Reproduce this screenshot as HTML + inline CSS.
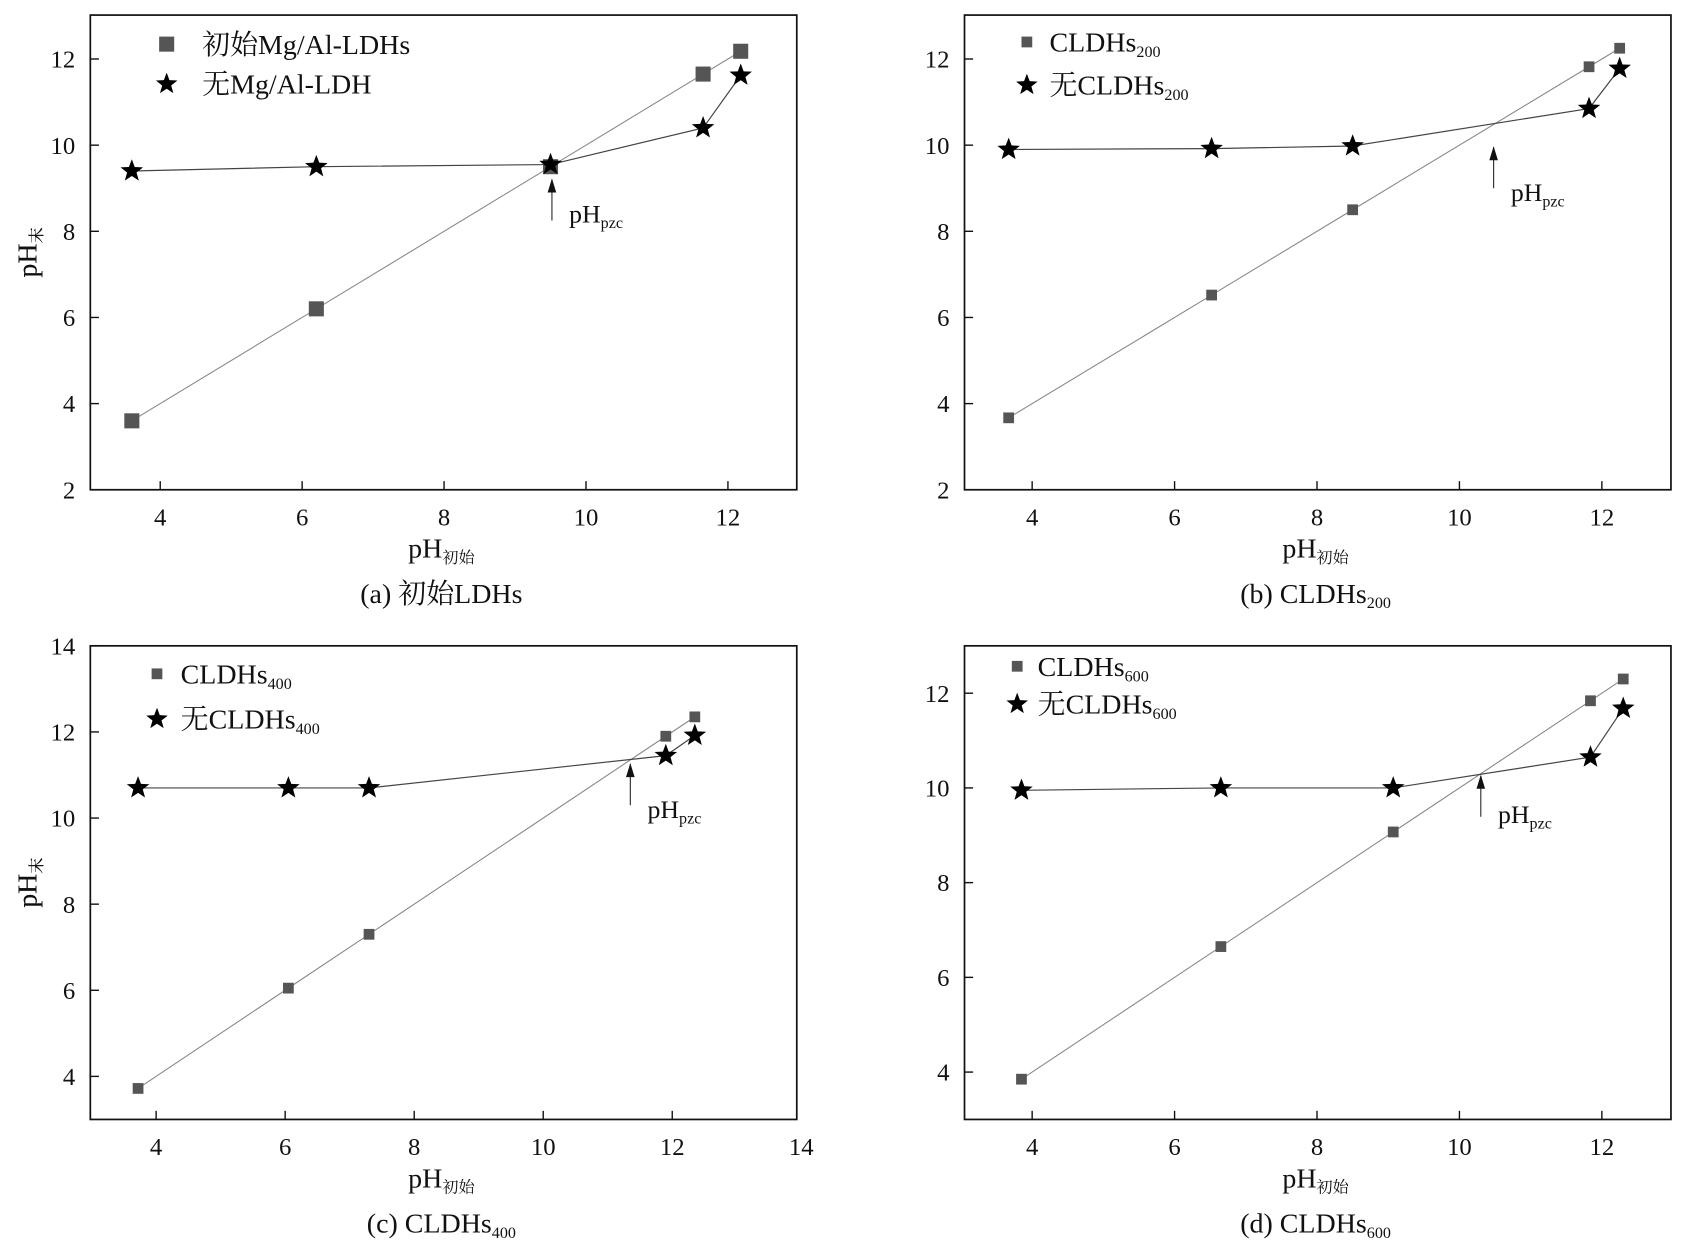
<!DOCTYPE html>
<html><head><meta charset="utf-8"><style>
body{margin:0;background:#fff}
svg{display:block}
text{font-family:"Liberation Serif","Noto Serif CJK SC","Noto Sans CJK SC",serif;fill:#111}
</style></head><body>
<svg id="fig" width="1686" height="1240" viewBox="0 0 1568 1152" preserveAspectRatio="none" xmlns="http://www.w3.org/2000/svg"></svg>
<script>
// Panel (a)
const aX = [3.6, 6.2, 9.5, 11.65, 12.18];
const aSquare = [3.6, 6.2, 9.5, 11.65, 12.18];
const aStar = [9.4, 9.5, 9.55, 10.4, 11.62];
// Panel (b)
const bX = [3.67, 6.52, 8.5, 11.82, 12.25];
const bSquare = [3.67, 6.52, 8.5, 11.82, 12.25];
const bStar = [9.9, 9.92, 9.98, 10.85, 11.78];
// Panel (c)
const cX = [3.72, 6.05, 7.3, 11.9, 12.35];
const cSquare = [3.72, 6.05, 7.3, 11.9, 12.35];
const cStar = [10.7, 10.7, 10.7, 11.45, 11.92];
// Panel (d)
const dX = [3.85, 6.65, 9.07, 11.84, 12.3];
const dSquare = [3.85, 6.65, 9.07, 11.84, 12.3];
const dStar = [9.95, 10.0, 10.0, 10.65, 11.68];
// Ticks
const xTicksABD = [4, 6, 8, 10, 12];
const xTicksC = [4, 6, 8, 10, 12, 14];
const yTicksAB = [2, 4, 6, 8, 10, 12];
const yTicksC = [4, 6, 8, 10, 12, 14];
const yTicksD = [4, 6, 8, 10, 12];
const pzc = [9.52, 10.48, 11.35, 10.3];

const NS = "http://www.w3.org/2000/svg";
const svg = document.getElementById('fig');
function mk(tag, attrs, parent){
  const e = document.createElementNS(NS, tag);
  for (const k in attrs) e.setAttribute(k, attrs[k]);
  (parent || svg).appendChild(e);
  return e;
}
function starPath(cx, cy, R){
  const r = R*0.42; let d = '';
  for (let i=0;i<10;i++){
    const rr = i%2?r:R, a = -Math.PI/2 + i*Math.PI/5;
    d += (i?'L':'M') + (cx+rr*Math.cos(a)).toFixed(1) + ',' + (cy+rr*Math.sin(a)).toFixed(1);
  }
  return d+'Z';
}
function sub(t, main, s, subSize){
  const a = mk('tspan', {}, t); a.textContent = main;
  const b = mk('tspan', {'font-size': subSize, dy: 5}, t); b.textContent = s;
}

function panel(p){
  const g = mk('g', {});
  
  
  const sx = v => p.x0 + (v - p.xmin) / (p.xmax - p.xmin) * (p.x1 - p.x0);
  const sy = v => p.y1 - (v - p.ymin) / (p.ymax - p.ymin) * (p.y1 - p.y0);
  const box = mk('rect', {x:p.x0, y:p.y0, width:p.x1-p.x0, height:p.y1-p.y0, fill:'none', stroke:'#111', 'stroke-width':1.6}, g);
  
  
  p.xt.forEach(v => {
    const X = sx(v);
    if (X <= p.x1 + 1) mk('line', {x1:X, x2:X, y1:p.y1, y2:p.y1-8, stroke:'#111', 'stroke-width':1.3}, g);
    const t = mk('text', {x:X, y:p.y1+33, 'font-size':23, 'text-anchor':'middle'}, g);
    t.textContent = v;
    
    
  });
  p.yt.forEach(v => {
    const Y = sy(v);
    mk('line', {x1:p.x0, x2:p.x0+8, y1:Y, y2:Y, stroke:'#111', 'stroke-width':1.3}, g);
    const t = mk('text', {x:p.x0-14, y:Y+8, 'font-size':23, 'text-anchor':'end'}, g);
    t.textContent = v;
    
    
  });
  const sqPts = p.xs.map((x,i)=>sx(x)+','+sy(p.sq[i])).join(' ');
  const l1 = mk('polyline', {points:sqPts, fill:'none', stroke:'#888', 'stroke-width':1}, g);
  
  
  const stPts = p.xs.map((x,i)=>sx(x)+','+sy(p.st[i])).join(' ');
  const l2 = mk('polyline', {points:stPts, fill:'none', stroke:'#444', 'stroke-width':1.1}, g);
  
  
  p.xs.forEach((x,i)=>{
    const s = p.sqs;
    const r = mk('rect', {x:sx(x)-s/2, y:sy(p.sq[i])-s/2, width:s, height:s, fill:'#555'}, g);
    
    
  });
  p.xs.forEach((x,i)=>{
    const s = mk('path', {d:starPath(sx(x), sy(p.st[i]), 11), fill:'#000'}, g);
    
    
  });
  const ax = sx(p.pzc), ay = sy(p.pzcY);
  mk('line', {x1:ax, x2:ax, y1:ay+2, y2:ay+40, stroke:'#222', 'stroke-width':1}, g);
  const ah = mk('path', {d:`M${ax},${ay+1} L${ax-4},${ay+14} L${ax+4},${ay+14}Z`, fill:'#111'}, g);
  
  
  const pt = mk('text', {x:ax+16, y:ay+p.pzcDy, 'font-size':24}, g);
  sub(pt, 'pH', 'pzc', 15);
  
  
  const lx = p.lx, ly = p.ly;
  const ls = mk('rect', {x:lx-p.sqs/2, y:ly-p.sqs/2, width:p.sqs, height:p.sqs, fill:'#555'}, g);
  
  
  const lt1 = mk('text', {x:lx+p.ltx, y:ly+9, 'font-size':26}, g);
  sub(lt1, p.leg1[0], p.leg1[1], 15);
  
  
  const lst = mk('path', {d:starPath(lx, ly+p.lgap, 10.5), fill:'#000'}, g);
  
  
  const lt2 = mk('text', {x:lx+p.ltx, y:ly+p.lgap+9, 'font-size':26}, g);
  sub(lt2, p.leg2[0], p.leg2[1], 15);
  
  
  const xm = (p.x0+p.x1)/2;
  const xt = mk('text', {x:xm-2, y:p.y1+63, 'font-size':26, 'text-anchor':'middle'}, g);
  sub(xt, 'pH', '初始', 15);
  
  
  const yc = (p.y0+p.y1)/2;
  const yt = mk('text', {x:0, y:0, 'font-size':26, 'text-anchor':'middle', transform:`translate(34,${yc}) rotate(-90)`}, g);
  sub(yt, 'pH', '末', 15);
  
  
  const cap = mk('text', {x:xm-2, y:p.y1+105, 'font-size':26, 'text-anchor':'middle'}, g);
  sub(cap, p.cap[0], p.cap[1], 15);
  
  
}

panel({id:'a', x0:84, x1:741, y0:14, y1:455, xmin:3.015, xmax:12.97, ymin:2, ymax:13.02,
  xt:xTicksABD, yt:yTicksAB, xs:aX, sq:aSquare, st:aStar, sqs:14, pzc:pzc[0], pzcY:9.25, pzcDy:42,
  lx:155, ly:41, lgap:37, ltx:33, leg1:['初始Mg/Al-LDHs',''], leg2:['无Mg/Al-LDH',''], cap:['(a) 初始LDHs','']});
panel({id:'b', x0:897, x1:1554, y0:14, y1:455, xmin:3.05, xmax:12.97, ymin:2, ymax:13.02,
  xt:xTicksABD, yt:yTicksAB, xs:bX, sq:bSquare, st:bStar, sqs:10, pzc:pzc[1], pzcY:10.0, pzcDy:52,
  lx:955, ly:39, lgap:40, ltx:21, leg1:['CLDHs','200'], leg2:['无CLDHs','200'], cap:['(b) CLDHs','200']});
panel({id:'c', x0:84, x1:741, y0:600, y1:1040, xmin:2.98, xmax:13.93, ymin:3, ymax:14,
  xt:xTicksC, yt:yTicksC, xs:cX, sq:cSquare, st:cStar, sqs:10, pzc:pzc[2], pzcY:11.3, pzcDy:52,
  lx:146, ly:626, lgap:42, ltx:22, leg1:['CLDHs','400'], leg2:['无CLDHs','400'], cap:['(c) CLDHs','400']});
panel({id:'d', x0:897, x1:1554, y0:600, y1:1040, xmin:3.05, xmax:12.97, ymin:3, ymax:13,
  xt:xTicksABD, yt:yTicksD, xs:dX, sq:dSquare, st:dStar, sqs:10, pzc:pzc[3], pzcY:10.3, pzcDy:46,
  lx:946, ly:619, lgap:35, ltx:19, leg1:['CLDHs','600'], leg2:['无CLDHs','600'], cap:['(d) CLDHs','600']});
</script>
</body></html>
